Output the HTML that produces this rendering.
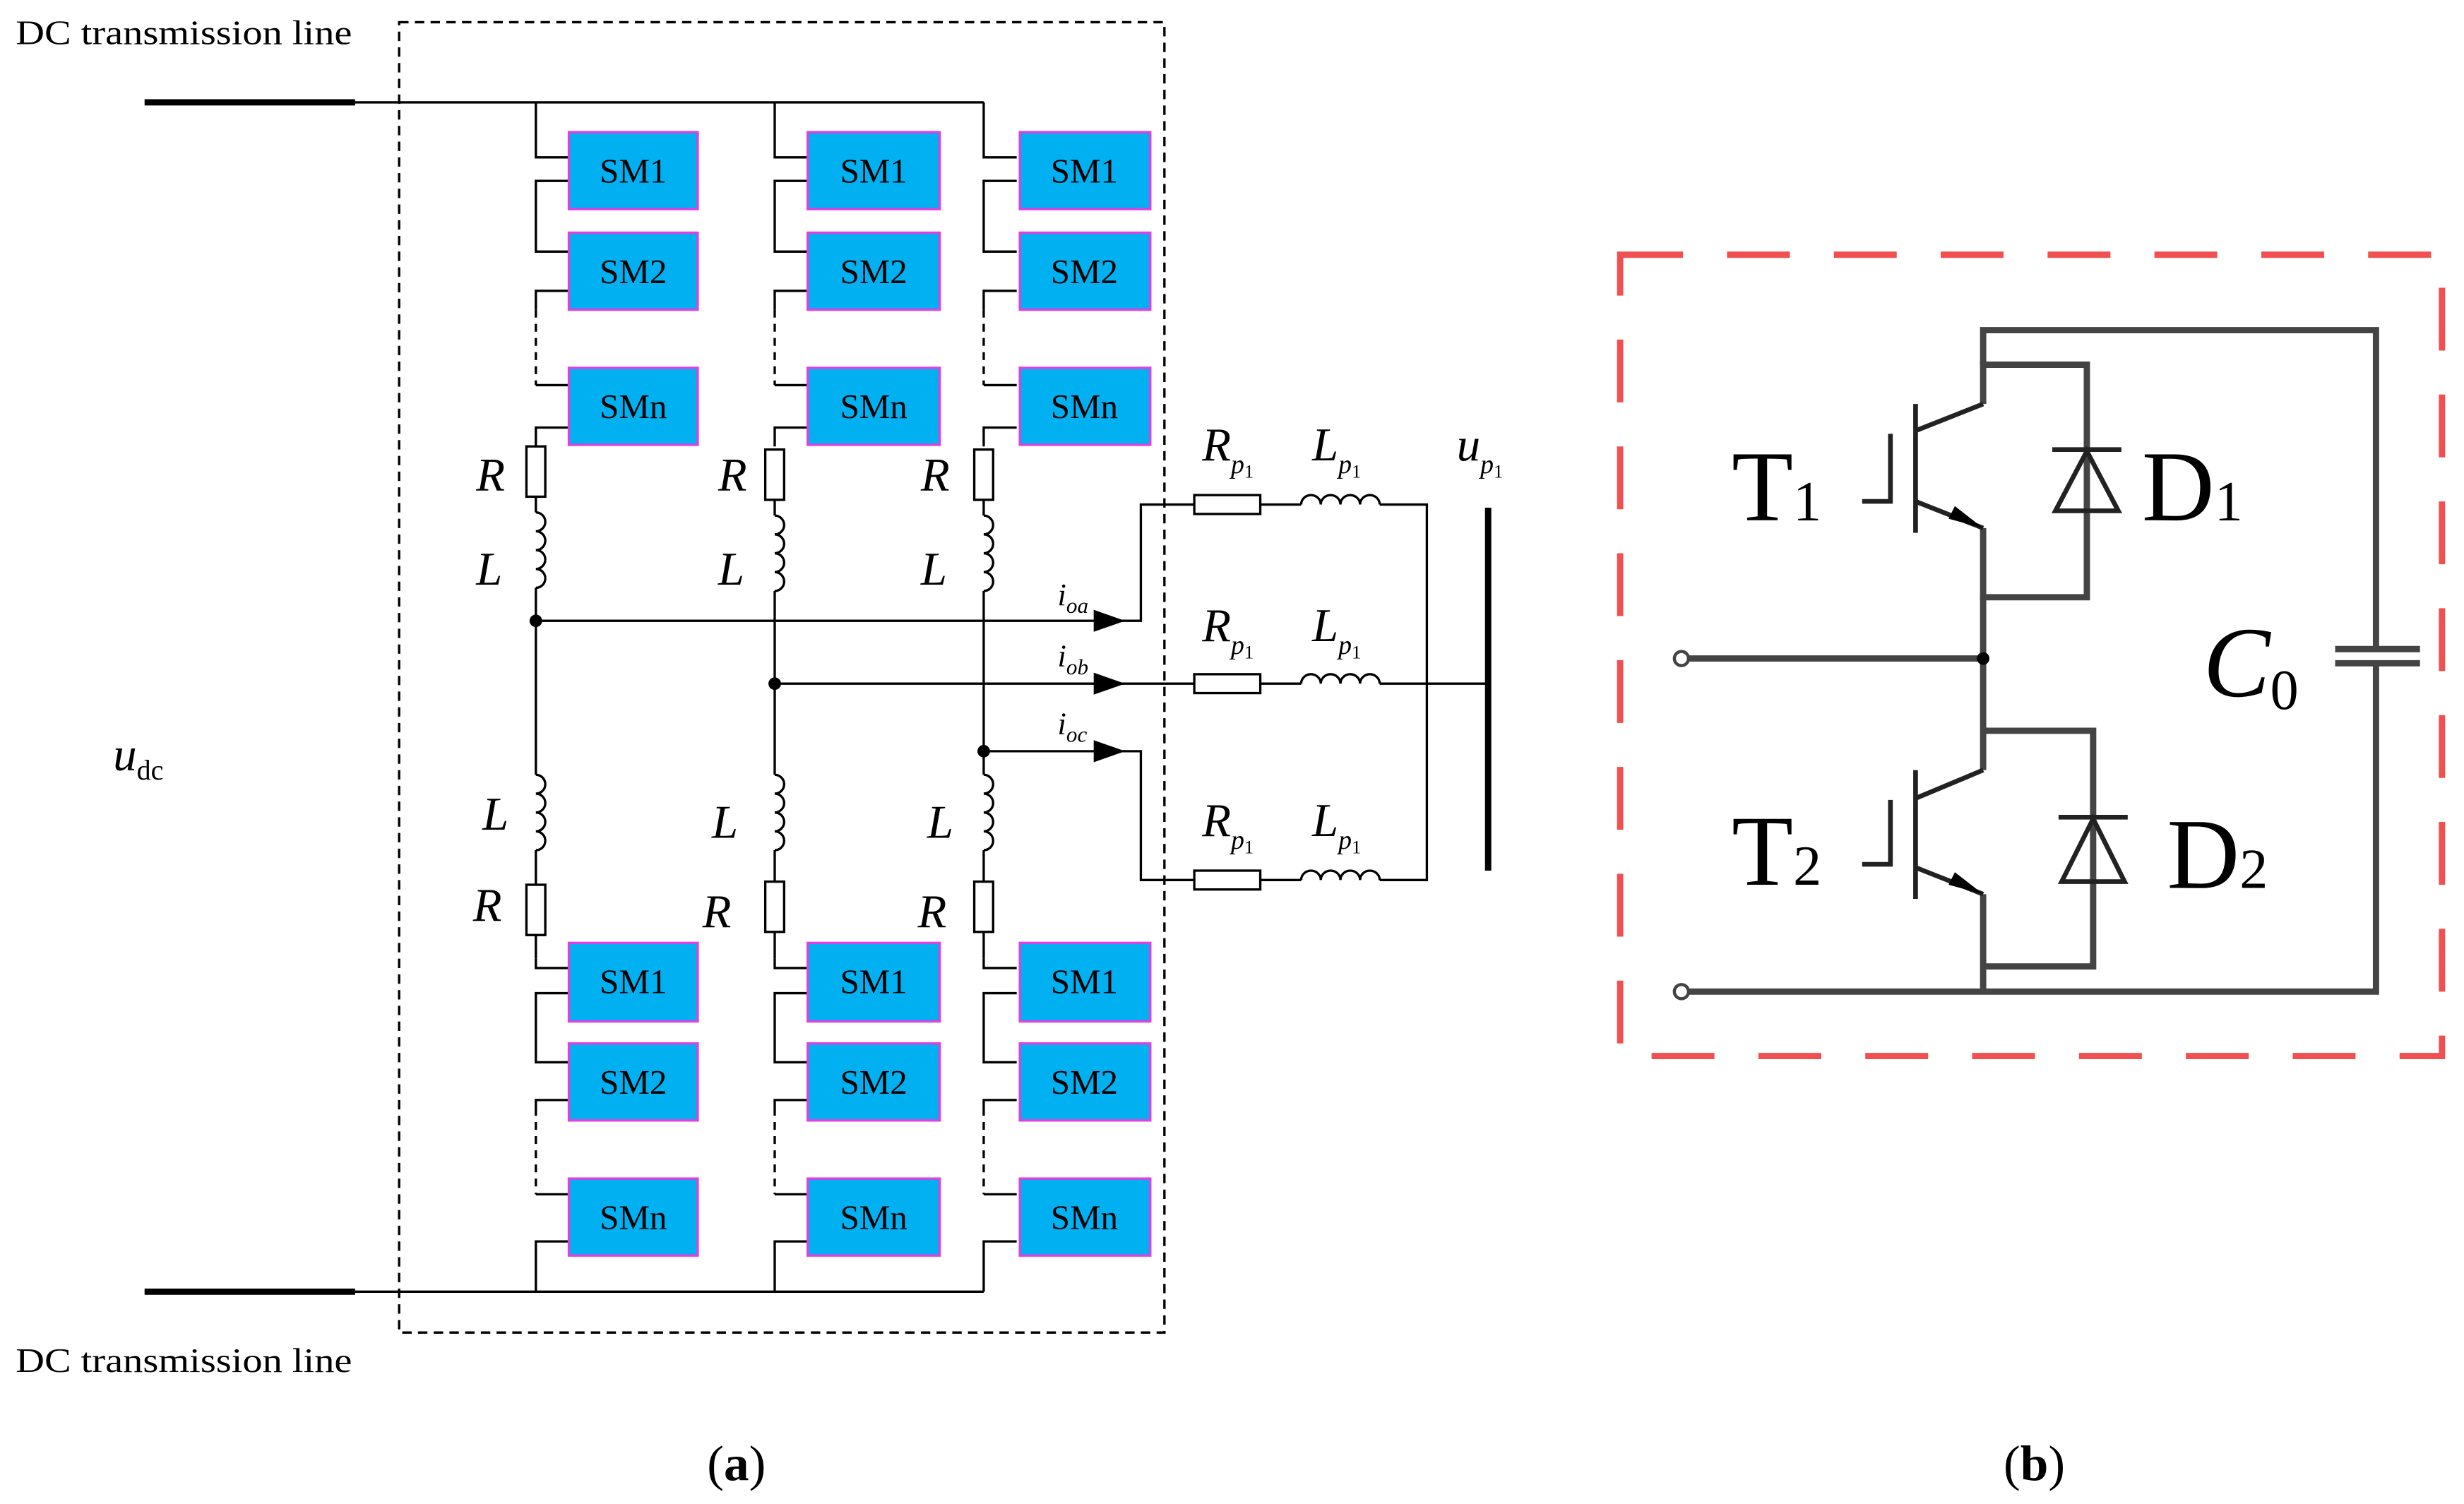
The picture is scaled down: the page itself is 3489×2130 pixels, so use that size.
<!DOCTYPE html>
<html><head><meta charset="utf-8"><style>
html,body{margin:0;padding:0;background:#fff;}
svg{display:block;}
text{font-family:"Liberation Serif",serif;fill:#000;}
</style></head><body>
<svg width="3489" height="2130" viewBox="0 0 1568 957" xmlns="http://www.w3.org/2000/svg">
<defs>
<g id="L1">
<polyline points="0,65 0,100 21,100"/>
<polyline points="21,115 0,115 0,160 21,160"/>
<polyline points="21,185 0,185 0,197"/>
<line x1="0" y1="197" x2="0" y2="245" stroke-dasharray="5,4"/>
<polyline points="0,245 21,245"/>
<polyline points="21,272 0,272 0,284"/>
<polyline points="21,616 0,616 0,610"/>
<polyline points="21,632 0,632 0,676 21,676"/>
<polyline points="21,700 0,700 0,705"/>
<line x1="0" y1="705" x2="0" y2="760" stroke-dasharray="5,4"/>
<polyline points="0,760 21,760"/>
<polyline points="21,790 0,790 0,822"/>
</g>
</defs>
<g font-size="22">
<text x="10" y="28" textLength="214" lengthAdjust="spacingAndGlyphs">DC transmission line</text>
<text x="10" y="873" textLength="214" lengthAdjust="spacingAndGlyphs">DC transmission line</text>
</g>
<line x1="92" y1="65" x2="226" y2="65" stroke="#000" stroke-width="4"/>
<line x1="92" y1="822" x2="226" y2="822" stroke="#000" stroke-width="4"/>
<rect x="254" y="14" width="487" height="834" fill="none" stroke="#000" stroke-width="1.5" stroke-dasharray="6,4"/>
<g stroke="#000" stroke-width="1.5" fill="none">
<line x1="226" y1="65" x2="626" y2="65"/>
<line x1="226" y1="822" x2="626" y2="822"/>
</g>
<g stroke="#000" stroke-width="1.5" fill="none">
<use href="#L1" x="341"/>
<use href="#L1" x="493"/>
<use href="#L1" x="626"/>
</g>
<g stroke="#000" stroke-width="1.5" fill="#fff">
<rect x="335" y="284" width="12" height="32"/>
<line x1="341" y1="316" x2="341" y2="326"/>
<path d="M341,326 a6,6 0 1 1 0,12 a6,6 0 1 1 0,12 a6,6 0 1 1 0,12 a6,6 0 1 1 0,12" fill="none"/>
<line x1="341" y1="374" x2="341" y2="493"/>
<path d="M341,493 a6,6 0 1 1 0,12 a6,6 0 1 1 0,12 a6,6 0 1 1 0,12 a6,6 0 1 1 0,12" fill="none"/>
<line x1="341" y1="541" x2="341" y2="563"/>
<rect x="335" y="563" width="12" height="32"/>
<line x1="341" y1="595" x2="341" y2="610"/>
<rect x="487" y="286" width="12" height="32"/>
<line x1="493" y1="318" x2="493" y2="328"/>
<path d="M493,328 a6,6 0 1 1 0,12 a6,6 0 1 1 0,12 a6,6 0 1 1 0,12 a6,6 0 1 1 0,12" fill="none"/>
<line x1="493" y1="376" x2="493" y2="493"/>
<path d="M493,493 a6,6 0 1 1 0,12 a6,6 0 1 1 0,12 a6,6 0 1 1 0,12 a6,6 0 1 1 0,12" fill="none"/>
<line x1="493" y1="541" x2="493" y2="561"/>
<rect x="487" y="561" width="12" height="32"/>
<line x1="493" y1="593" x2="493" y2="610"/>
<rect x="620" y="286" width="12" height="32"/>
<line x1="626" y1="318" x2="626" y2="328"/>
<path d="M626,328 a6,6 0 1 1 0,12 a6,6 0 1 1 0,12 a6,6 0 1 1 0,12 a6,6 0 1 1 0,12" fill="none"/>
<line x1="626" y1="376" x2="626" y2="493"/>
<path d="M626,493 a6,6 0 1 1 0,12 a6,6 0 1 1 0,12 a6,6 0 1 1 0,12 a6,6 0 1 1 0,12" fill="none"/>
<line x1="626" y1="541" x2="626" y2="561"/>
<rect x="620" y="561" width="12" height="32"/>
<line x1="626" y1="593" x2="626" y2="610"/>
</g>
<g fill="#000">
<circle cx="341" cy="395" r="4"/>
<circle cx="493" cy="435" r="4"/>
<circle cx="626" cy="478" r="4"/>
</g>
<g stroke="#000" stroke-width="1.5" fill="none">
<polyline points="341,395 726,395 726,321 760,321"/>
<line x1="493" y1="435" x2="760" y2="435"/>
<polyline points="626,478 726,478 726,560 760,560"/>
<line x1="802" y1="321" x2="828" y2="321"/>
<line x1="802" y1="435" x2="828" y2="435"/>
<line x1="802" y1="560" x2="828" y2="560"/>
<path d="M828,321 a6.25,6 0 1 1 12.5,0 a6.25,6 0 1 1 12.5,0 a6.25,6 0 1 1 12.5,0 a6.25,6 0 1 1 12.5,0"/>
<path d="M828,435 a6.25,6 0 1 1 12.5,0 a6.25,6 0 1 1 12.5,0 a6.25,6 0 1 1 12.5,0 a6.25,6 0 1 1 12.5,0"/>
<path d="M828,560 a6.25,6 0 1 1 12.5,0 a6.25,6 0 1 1 12.5,0 a6.25,6 0 1 1 12.5,0 a6.25,6 0 1 1 12.5,0"/>
<polyline points="878,321 908,321 908,560 878,560"/>
<line x1="878" y1="435" x2="946" y2="435"/>
</g>
<g stroke="#000" stroke-width="1.5" fill="#fff">
<rect x="760" y="315" width="42" height="12"/>
<rect x="760" y="429" width="42" height="12"/>
<rect x="760" y="554" width="42" height="12"/>
</g>
<line x1="947" y1="323" x2="947" y2="554" stroke="#000" stroke-width="4"/>
<g fill="#000">
<polygon points="696,388 716,395 696,402"/>
<polygon points="696,428 716,435 696,442"/>
<polygon points="696,471 716,478 696,485"/>
</g>
<g fill="#00B0F0" stroke="#E040E0" stroke-width="1.5">
<rect x="362" y="84" width="82" height="49"/><rect x="362" y="148" width="82" height="49"/><rect x="362" y="234" width="82" height="49"/>
<rect x="514" y="84" width="84" height="49"/><rect x="514" y="148" width="84" height="49"/><rect x="514" y="234" width="84" height="49"/>
<rect x="649" y="84" width="83" height="49"/><rect x="649" y="148" width="83" height="49"/><rect x="649" y="234" width="83" height="49"/>
<rect x="362" y="600" width="82" height="50"/><rect x="362" y="664" width="82" height="49"/><rect x="362" y="750" width="82" height="49"/>
<rect x="514" y="600" width="84" height="50"/><rect x="514" y="664" width="84" height="49"/><rect x="514" y="750" width="84" height="49"/>
<rect x="649" y="600" width="83" height="50"/><rect x="649" y="664" width="83" height="49"/><rect x="649" y="750" width="83" height="49"/>
</g>
<g font-size="22" text-anchor="middle">
<text x="403" y="116">SM1</text><text x="403" y="180">SM2</text><text x="403" y="266">SMn</text>
<text x="556" y="116">SM1</text><text x="556" y="180">SM2</text><text x="556" y="266">SMn</text>
<text x="690" y="116">SM1</text><text x="690" y="180">SM2</text><text x="690" y="266">SMn</text>
<text x="403" y="632">SM1</text><text x="403" y="696">SM2</text><text x="403" y="782">SMn</text>
<text x="556" y="632">SM1</text><text x="556" y="696">SM2</text><text x="556" y="782">SMn</text>
<text x="690" y="632">SM1</text><text x="690" y="696">SM2</text><text x="690" y="782">SMn</text>
</g>
<g font-size="30" font-style="italic">
<text x="303" y="312">R</text><text x="457" y="312">R</text><text x="586" y="312">R</text>
<text x="303" y="372">L</text><text x="457" y="372">L</text><text x="586" y="372">L</text>
<text x="307" y="528">L</text><text x="453" y="533">L</text><text x="590" y="533">L</text>
<text x="301" y="586">R</text><text x="447" y="590">R</text><text x="584" y="590">R</text>
<text x="72" y="490">u<tspan font-size="18" font-style="normal" dy="6">dc</tspan></text>
<text x="765" y="293">R<tspan font-size="17" dy="8">p</tspan><tspan font-size="12" font-style="normal" dy="3">1</tspan></text>
<text x="835" y="293">L<tspan font-size="17" dy="8">p</tspan><tspan font-size="12" font-style="normal" dy="3">1</tspan></text>
<text x="765" y="408">R<tspan font-size="17" dy="8">p</tspan><tspan font-size="12" font-style="normal" dy="3">1</tspan></text>
<text x="835" y="408">L<tspan font-size="17" dy="8">p</tspan><tspan font-size="12" font-style="normal" dy="3">1</tspan></text>
<text x="765" y="532">R<tspan font-size="17" dy="8">p</tspan><tspan font-size="12" font-style="normal" dy="3">1</tspan></text>
<text x="835" y="532">L<tspan font-size="17" dy="8">p</tspan><tspan font-size="12" font-style="normal" dy="3">1</tspan></text>
<text x="927" y="293">u<tspan font-size="17" dy="8">p</tspan><tspan font-size="12" font-style="normal" dy="3">1</tspan></text>
</g>
<g font-size="20" font-style="italic">
<text x="673" y="385">i<tspan font-size="14" dy="5">oa</tspan></text>
<text x="673" y="424">i<tspan font-size="14" dy="5">ob</tspan></text>
<text x="673" y="467">i<tspan font-size="14" dy="5">oc</tspan></text>
</g>
<g font-size="32">
<text x="450" y="942">(<tspan font-weight="bold">a</tspan>)</text>
<text x="1275" y="942">(<tspan font-weight="bold">b</tspan>)</text>
</g>
<rect x="1031" y="162" width="523" height="510" fill="none" stroke="#f05050" stroke-width="4" stroke-dasharray="40,28"/>
<g stroke="#444" stroke-width="4" fill="none">
<polyline points="1262,232 1262,210 1512,210 1512,413"/>
<polyline points="1512,422 1512,631 1070,631"/>
<line x1="1486" y1="413" x2="1540" y2="413"/>
<line x1="1486" y1="422" x2="1540" y2="422"/>
<line x1="1074" y1="419" x2="1262" y2="419"/>
<polyline points="1262,257 1262,232 1328,232 1328,380 1262,380 1262,336"/>
<line x1="1262" y1="380" x2="1262" y2="490"/>
<polyline points="1262,465 1332,465 1332,615 1262,615"/>
<line x1="1262" y1="569" x2="1262" y2="631"/>
</g>
<g stroke="#222" stroke-width="3" fill="none">
<line x1="1219" y1="257" x2="1219" y2="339"/>
<line x1="1219" y1="274" x2="1262" y2="257"/>
<line x1="1219" y1="319" x2="1262" y2="336"/>
<polyline points="1203,276 1203,319 1185,319"/>
<line x1="1219" y1="490" x2="1219" y2="572"/>
<line x1="1219" y1="508" x2="1262" y2="490"/>
<line x1="1219" y1="552" x2="1262" y2="569"/>
<polyline points="1203,509 1203,550 1185,550"/>
<polygon points="1328,287 1308,325 1348,325"/>
<line x1="1306" y1="286" x2="1350" y2="286"/>
<polygon points="1332,521 1312,561 1352,561"/>
<line x1="1310" y1="520" x2="1354" y2="520"/>
</g>
<g fill="#000">
<polygon points="1262,336 1244,322 1240,330"/>
<polygon points="1262,569 1244,555 1240,563"/>
<circle cx="1262" cy="419" r="4"/>
</g>
<g fill="#fff" stroke="#444" stroke-width="2">
<circle cx="1070" cy="419" r="4.5"/>
<circle cx="1070" cy="631" r="4.5"/>
</g>
<g font-size="64">
<text x="1102" y="331">T<tspan font-size="36">1</tspan></text>
<text x="1363" y="331">D<tspan font-size="36">1</tspan></text>
<text x="1102" y="563">T<tspan font-size="36">2</tspan></text>
<text x="1379" y="565">D<tspan font-size="36">2</tspan></text>
<text x="1402" y="443" font-style="italic">C<tspan font-size="36" font-style="normal" dy="8">0</tspan></text>
</g>
</svg>
</body></html>
